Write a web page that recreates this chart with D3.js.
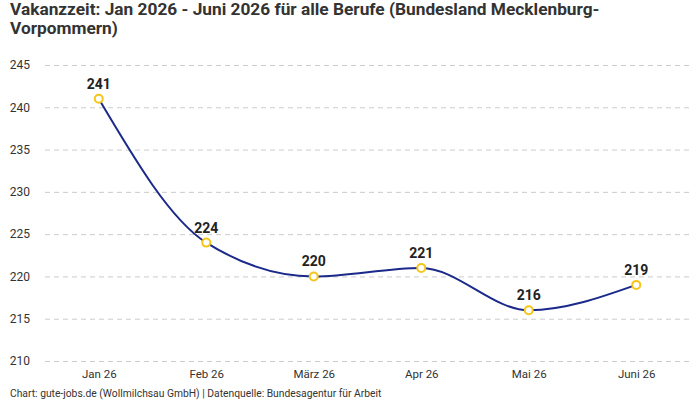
<!DOCTYPE html>
<html>
<head>
<meta charset="utf-8">
<script src="https://cdn.jsdelivr.net/npm/d3@7"></script>
<style>
  body { margin: 0; background: #fff; }
  svg { font-family: "Roboto", "Noto Sans", sans-serif; }
</style>
</head>
<body>
<svg id="chart" width="700" height="400"></svg>
<script>
let months = ["Jan 26", "Feb 26", "März 26", "Apr 26", "Mai 26", "Juni 26"];
let vacancyDays = [241, 224, 220, 221, 216, 219];
let yTicks = [210, 215, 220, 225, 230, 235, 240, 245];

function drawChart() {
  let svg = d3.select("#chart");

  let x = d3.scalePoint()
    .domain(months)
    .range([45, 690])
    .padding(0.5);

  let y = d3.scaleLinear()
    .domain([210, 245])
    .range([361, 65]);

  // title
  let title = svg.append("text")
    .attr("font-size", 17.3)
    .attr("font-weight", "bold")
    .attr("fill", "#333");
  title.append("tspan").attr("x", 10).attr("y", 15)
    .text("Vakanzzeit: Jan 2026 - Juni 2026 für alle Berufe (Bundesland Mecklenburg-");
  title.append("tspan").attr("x", 10).attr("y", 34)
    .text("Vorpommern)");

  // grid + y labels
  let yAxis = d3.axisLeft(y)
    .tickValues(yTicks)
    .tickSize(-(690 - 45))
    .tickPadding(15);
  let gy = svg.append("g")
    .attr("transform", "translate(45,0)")
    .call(yAxis);
  gy.select(".domain").remove();
  gy.selectAll(".tick line")
    .attr("stroke", "#ccc")
    .attr("stroke-dasharray", "5,4");
  gy.selectAll(".tick text")
    .attr("fill", "#333")
    .attr("font-size", 12)
    .attr("font-family", "Roboto, sans-serif");

  // x labels
  let xAxis = d3.axisBottom(x).tickSize(0).tickPadding(9);
  let gx = svg.append("g")
    .attr("transform", "translate(0,361)")
    .call(xAxis);
  gx.select(".domain").remove();
  gx.selectAll(".tick text")
    .attr("fill", "#333")
    .attr("font-size", 11.5)
    .attr("font-family", "Roboto, sans-serif");

  let points = months.map((m, i) => ({m, v: vacancyDays[i]}));

  let line = d3.line()
    .x(d => x(d.m))
    .y(d => y(d.v))
    .curve(d3.curveMonotoneX);

  svg.append("path")
    .datum(points)
    .attr("d", line)
    .attr("fill", "none")
    .attr("stroke", "#1b2a8a")
    .attr("stroke-width", 2);

  svg.selectAll("circle.pt").data(points)
    .enter().append("circle")
    .attr("class", "pt")
    .attr("cx", d => x(d.m))
    .attr("cy", d => y(d.v))
    .attr("r", 4)
    .attr("fill", "#fff")
    .attr("stroke", "#f5c518")
    .attr("stroke-width", 2);

  svg.selectAll("text.val").data(points)
    .enter().append("text")
    .attr("class", "val")
    .attr("x", d => x(d.m))
    .attr("y", d => y(d.v) - 10)
    .attr("text-anchor", "middle")
    .attr("font-size", 14)
    .attr("font-weight", "bold")
    .attr("fill", "#222")
    .text(d => d.v);

  svg.append("text")
    .attr("x", 10)
    .attr("y", 397)
    .attr("font-size", 10.3)
    .attr("fill", "#333")
    .text("Chart: gute-jobs.de (Wollmilchsau GmbH) | Datenquelle: Bundesagentur für Arbeit");
}

drawChart();
</script>
</body>
</html>
